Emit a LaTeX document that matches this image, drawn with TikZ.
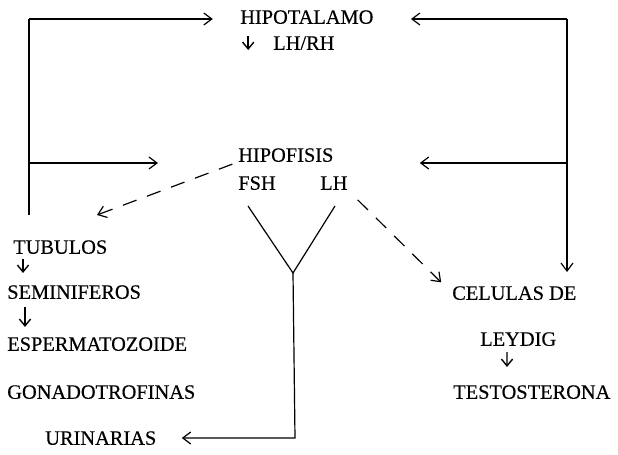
\documentclass[tikz,border=0pt]{standalone}
\usepackage{fontspec}
\setmainfont{Liberation Serif}
\newfontfamily\diagfont[FakeBold=0.3]{Liberation Serif}
\usetikzlibrary{arrows.meta}

\begin{document}
\begin{tikzpicture}[x=0.025cm, y=-0.025cm,
    term/.style={anchor=west, inner sep=0pt, text height=9.6pt, text depth=0pt, font=\diagfont\fontsize{14.5}{17}\selectfont},
    line/.style={draw, line width=0.85pt},
    arrow/.style={line, -{Straight Barb[length=2mm, width=3mm]}},
    dline/.style={arrow, dash pattern=on 0.36cm off 0.28cm},
    tick/.style={line, line width=1pt, -{Straight Barb[length=1.7mm, width=2.8mm]}}]
    \useasboundingbox (0,0) rectangle (618,454);

    \node [term] at (240,17) (hipot) {HIPOTALAMO};
    \node [term] at (273,43) (lhrh) {LH/RH};
    \node [term] at (238,155) (hipof) {HIPOFISIS};
    \node [term] at (238,183) (fsh) {FSH};
    \node [term] at (320,183) (lh) {LH};
    \node [term] at (13,247) (tubulos) {TUBULOS};
    \node [term] at (7,292) (semin) {SEMINIFEROS};
    \node [term] at (7,344) (esperm) {ESPERMATOZOIDE};
    \node [term] at (7,392) (gonad) {GONADOTROFINAS};
    \node [term] at (45,438) (urin) {URINARIAS};
    \node [term] at (452,293) (celulas) {CELULAS DE};
    \node [term] at (480,339) (leydig) {LEYDIG};
    \node [term] at (453,392) (testo) {TESTOSTERONA};

    \coordinate (ltop) at (29,19);
    \coordinate (lmid) at (29,163);
    \coordinate (lbot) at (29,215);
    \coordinate (rtop) at (567,19);
    \coordinate (rmid) at (567,163);
    \coordinate (rbot) at (567,272);
    \coordinate (yleft) at (248,206);
    \coordinate (yright) at (335,206);
    \coordinate (yjoin) at (293,273);
    \coordinate (ycorner) at (295,438);
    \coordinate (tubtip) at (97,215);

    % feedback loops
    \path [line] (lbot) -- (ltop);
    \path [arrow, shorten >=0.68cm] (ltop) -- (ltop -| hipot.west);
    \path [arrow, shorten >=2cm] (lmid) -- (lmid -| hipof.west);
    \path [line] (rtop) -- (rmid);
    \path [arrow] (rmid) -- (rbot);
    \path [arrow, shorten >=0.93cm] (rtop) -- (rtop -| hipot.east);
    \path [arrow, shorten >=2.15cm] (rmid) -- (rmid -| hipof.east);

    % FSH / LH
    \path [line] (yleft) -- (yjoin) -- (yright);
    \path [arrow, shorten >=0.63cm] (yjoin) -- (ycorner) -- (ycorner -| urin.east);
    \path [dline, shorten <=0.15cm] (hipof.south west) -- (tubtip);
    \path [dline, shorten <=0.35cm, shorten >=0.38cm] (lh.south east) -- (celulas.west);

    % small arrows
    \path [tick] ([xshift=-0.62cm]lhrh.north west) -- ([xshift=-0.62cm]lhrh.south west);
    \path [tick, shorten <=0.12cm, shorten >=0.3cm] ([xshift=0.4cm]semin.north west |- tubulos.south) -- ([xshift=0.4cm]semin.north west);
    \path [tick, shorten <=0.2cm, shorten >=0.25cm] ([xshift=0.45cm]semin.south west) -- ([xshift=0.45cm]esperm.north west);
    \path [tick, shorten <=0.15cm, shorten >=0.45cm] ([xshift=0.675cm]leydig.south west) -- ([xshift=1.35cm]testo.north west);
\end{tikzpicture}
\end{document}
